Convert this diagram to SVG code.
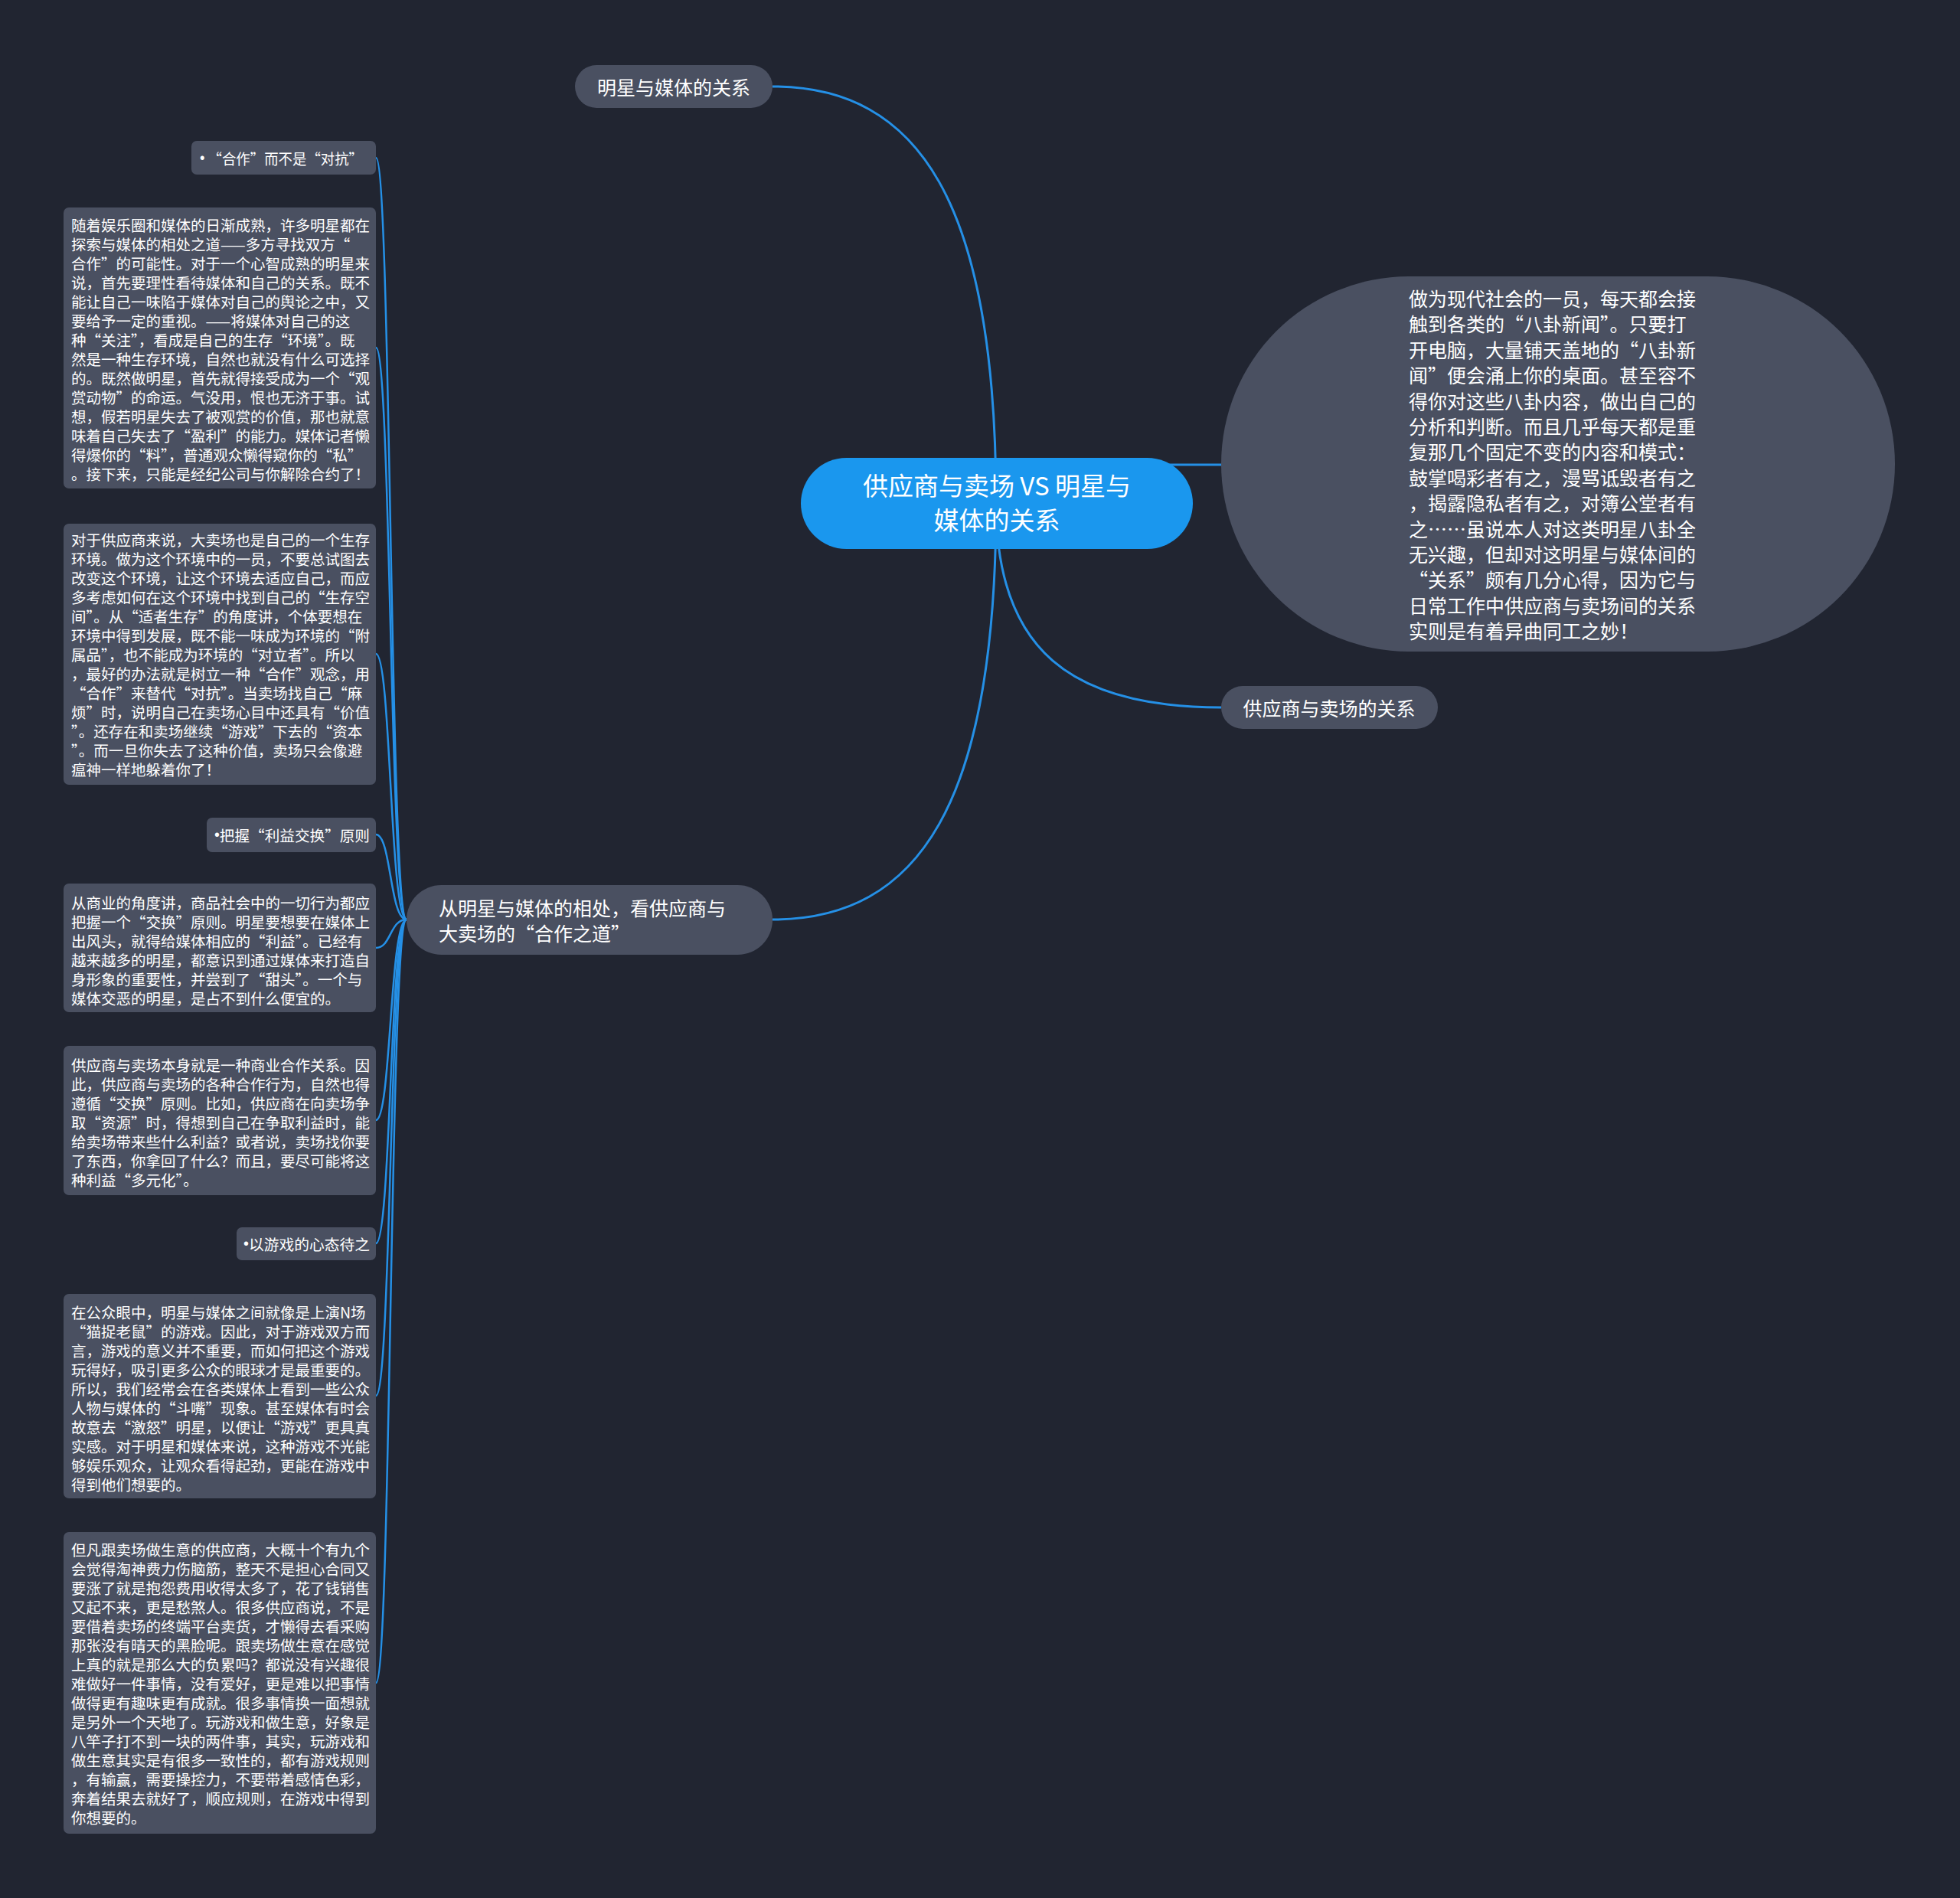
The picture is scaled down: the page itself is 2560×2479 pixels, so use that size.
<svg xmlns="http://www.w3.org/2000/svg" width="2560" height="2479" viewBox="0 0 2560 2479">
<style>
.bg{fill:#212531}
.node{fill:#4a5061}
.root{fill:#1a97ee}
.t{font-family:"Noto Sans CJK SC","Noto Sans",sans-serif;fill:#ffffff;dominant-baseline:central}
.t25{font-size:25px}
.t33{font-size:33px}
.t19{font-size:19.5px}
.b{font-family:"Liberation Sans",sans-serif}
.c{fill:none;stroke:#2590e6;stroke-width:3}
.cl{fill:none;stroke:#2590e6;stroke-width:2.5}
</style>
<rect class="bg" x="0" y="0" width="2560" height="2479"/>
<g id="connectors">
<path class="c" d="M1301,657 C1301,264 1200,113 1009,113"/>
<path class="c" d="M1301,657 C1301,1050 1200,1201 1009,1201"/>
<path class="c" d="M1301,657 C1301,850 1400,924 1595,924"/>
<path class="c" d="M1301,607 L1600,607"/>
<path class="cl" d="M531,1201 C509,1201 511,206 491,206"/>
<path class="cl" d="M531,1201 C509,1201 511,454 491,454"/>
<path class="cl" d="M531,1201 C509,1201 511,854 491,854"/>
<path class="cl" d="M531,1201 C509,1201 511,1090 491,1090"/>
<path class="cl" d="M531,1201 C509,1201 511,1238 491,1238"/>
<path class="cl" d="M531,1201 C509,1201 511,1463 491,1463"/>
<path class="cl" d="M531,1201 C509,1201 511,1624 491,1624"/>
<path class="cl" d="M531,1201 C509,1201 511,1823 491,1823"/>
<path class="cl" d="M531,1201 C509,1201 511,2198 491,2198"/>
</g>
<g id="root">
<rect class="root" x="1046" y="598" width="512" height="119" rx="59.5"/>
<text class="t t33" x="1302" y="633" text-anchor="middle">供应商与卖场 VS 明星与</text>
<text class="t t33" x="1302" y="678" text-anchor="middle">媒体的关系</text>
</g>
<g id="n-mingxing">
<rect class="node" x="751" y="85" width="258" height="56" rx="28"/>
<text class="t t25" x="880" y="113" text-anchor="middle">明星与媒体的关系</text>
</g>
<g id="n-gongying">
<rect class="node" x="1595" y="896" width="283" height="56" rx="28"/>
<text class="t t25" x="1736" y="924" text-anchor="middle">供应商与卖场的关系</text>
</g>
<g id="n-intro">
<rect class="node" x="1595" y="361" width="880" height="490" rx="245"/>
<text class="t t25" x="1840" y="389">
<tspan x="1840" y="389">做为现代社会的一员，每天都会接</tspan>
<tspan x="1840" y="422.4">触到各类的“八卦新闻”。只要打</tspan>
<tspan x="1840" y="455.8">开电脑，大量铺天盖地的“八卦新</tspan>
<tspan x="1840" y="489.2">闻”便会涌上你的桌面。甚至容不</tspan>
<tspan x="1840" y="522.6">得你对这些八卦内容，做出自己的</tspan>
<tspan x="1840" y="556">分析和判断。而且几乎每天都是重</tspan>
<tspan x="1840" y="589.4">复那几个固定不变的内容和模式：</tspan>
<tspan x="1840" y="622.8">鼓掌喝彩者有之，漫骂诋毁者有之</tspan>
<tspan x="1840" y="656.2">，揭露隐私者有之，对簿公堂者有</tspan>
<tspan x="1840" y="689.6">之……虽说本人对这类明星八卦全</tspan>
<tspan x="1840" y="723">无兴趣，但却对这明星与媒体间的</tspan>
<tspan x="1840" y="756.4">“关系”颇有几分心得，因为它与</tspan>
<tspan x="1840" y="789.8">日常工作中供应商与卖场间的关系</tspan>
<tspan x="1840" y="823.2">实则是有着异曲同工之妙！</tspan>
</text>
</g>
<g id="n-hezuo-dao">
<rect class="node" x="531" y="1156" width="478" height="91" rx="45.5"/>
<text class="t t25" x="573" y="1185">
<tspan x="573" y="1185">从明星与媒体的相处，看供应商与</tspan>
<tspan x="573" y="1218">大卖场的“合作之道”</tspan>
</text>
</g>
<g id="leaf-a">
<rect class="node" x="250" y="184" width="241" height="44" rx="7"/>
<text class="t t19" x="261" y="206" textLength="213" lengthAdjust="spacingAndGlyphs"><tspan class="b">•</tspan> “合作”而不是“对抗”</text>
</g>
<g id="leaf-b">
<rect class="node" x="83" y="271" width="408" height="367" rx="7"/>
<text class="t t19" x="93" y="293">
<tspan x="93" y="293">随着娱乐圈和媒体的日渐成熟，许多明星都在</tspan>
<tspan x="93" y="318">探索与媒体的相处之道——多方寻找双方“</tspan>
<tspan x="93" y="343">合作”的可能性。对于一个心智成熟的明星来</tspan>
<tspan x="93" y="368">说，首先要理性看待媒体和自己的关系。既不</tspan>
<tspan x="93" y="393">能让自己一味陷于媒体对自己的舆论之中，又</tspan>
<tspan x="93" y="418">要给予一定的重视。——将媒体对自己的这</tspan>
<tspan x="93" y="443">种“关注”，看成是自己的生存“环境”。既</tspan>
<tspan x="93" y="468">然是一种生存环境，自然也就没有什么可选择</tspan>
<tspan x="93" y="493">的。既然做明星，首先就得接受成为一个“观</tspan>
<tspan x="93" y="518">赏动物”的命运。气没用，恨也无济于事。试</tspan>
<tspan x="93" y="543">想，假若明星失去了被观赏的价值，那也就意</tspan>
<tspan x="93" y="568">味着自己失去了“盈利”的能力。媒体记者懒</tspan>
<tspan x="93" y="593">得爆你的“料”，普通观众懒得窥你的“私”</tspan>
<tspan x="93" y="618">。接下来，只能是经纪公司与你解除合约了！</tspan>
</text>
</g>
<g id="leaf-c">
<rect class="node" x="83" y="684" width="408" height="341" rx="7"/>
<text class="t t19" x="93" y="704">
<tspan x="93" y="704">对于供应商来说，大卖场也是自己的一个生存</tspan>
<tspan x="93" y="729">环境。做为这个环境中的一员，不要总试图去</tspan>
<tspan x="93" y="754">改变这个环境，让这个环境去适应自己，而应</tspan>
<tspan x="93" y="779">多考虑如何在这个环境中找到自己的“生存空</tspan>
<tspan x="93" y="804">间”。从“适者生存”的角度讲，个体要想在</tspan>
<tspan x="93" y="829">环境中得到发展，既不能一味成为环境的“附</tspan>
<tspan x="93" y="854">属品”，也不能成为环境的“对立者”。所以</tspan>
<tspan x="93" y="879">，最好的办法就是树立一种“合作”观念，用</tspan>
<tspan x="93" y="904">“合作”来替代“对抗”。当卖场找自己“麻</tspan>
<tspan x="93" y="929">烦”时，说明自己在卖场心目中还具有“价值</tspan>
<tspan x="93" y="954">”。还存在和卖场继续“游戏”下去的“资本</tspan>
<tspan x="93" y="979">”。而一旦你失去了这种价值，卖场只会像避</tspan>
<tspan x="93" y="1004">瘟神一样地躲着你了！</tspan>
</text>
</g>
<g id="leaf-d">
<rect class="node" x="270" y="1068" width="221" height="45" rx="7"/>
<text class="t t19" x="280" y="1090" textLength="203" lengthAdjust="spacingAndGlyphs"><tspan class="b">•</tspan>把握“利益交换”原则</text>
</g>
<g id="leaf-e">
<rect class="node" x="83" y="1154" width="408" height="168" rx="7"/>
<text class="t t19" x="93" y="1178">
<tspan x="93" y="1178">从商业的角度讲，商品社会中的一切行为都应</tspan>
<tspan x="93" y="1203">把握一个“交换”原则。明星要想要在媒体上</tspan>
<tspan x="93" y="1228">出风头，就得给媒体相应的“利益”。已经有</tspan>
<tspan x="93" y="1253">越来越多的明星，都意识到通过媒体来打造自</tspan>
<tspan x="93" y="1278">身形象的重要性，并尝到了“甜头”。一个与</tspan>
<tspan x="93" y="1303">媒体交恶的明星，是占不到什么便宜的。</tspan>
</text>
</g>
<g id="leaf-f">
<rect class="node" x="83" y="1366" width="408" height="195" rx="7"/>
<text class="t t19" x="93" y="1390">
<tspan x="93" y="1390">供应商与卖场本身就是一种商业合作关系。因</tspan>
<tspan x="93" y="1415">此，供应商与卖场的各种合作行为，自然也得</tspan>
<tspan x="93" y="1440">遵循“交换”原则。比如，供应商在向卖场争</tspan>
<tspan x="93" y="1465">取“资源”时，得想到自己在争取利益时，能</tspan>
<tspan x="93" y="1490">给卖场带来些什么利益？或者说，卖场找你要</tspan>
<tspan x="93" y="1515">了东西，你拿回了什么？而且，要尽可能将这</tspan>
<tspan x="93" y="1540">种利益“多元化”。</tspan>
</text>
</g>
<g id="leaf-g">
<rect class="node" x="309" y="1603" width="182" height="43" rx="7"/>
<text class="t t19" x="318" y="1624" textLength="165" lengthAdjust="spacingAndGlyphs"><tspan class="b">•</tspan>以游戏的心态待之</text>
</g>
<g id="leaf-h">
<rect class="node" x="83" y="1690" width="408" height="267" rx="7"/>
<text class="t t19" x="93" y="1713">
<tspan x="93" y="1713">在公众眼中，明星与媒体之间就像是上演N场</tspan>
<tspan x="93" y="1738">“猫捉老鼠”的游戏。因此，对于游戏双方而</tspan>
<tspan x="93" y="1763">言，游戏的意义并不重要，而如何把这个游戏</tspan>
<tspan x="93" y="1788">玩得好，吸引更多公众的眼球才是最重要的。</tspan>
<tspan x="93" y="1813">所以，我们经常会在各类媒体上看到一些公众</tspan>
<tspan x="93" y="1838">人物与媒体的“斗嘴”现象。甚至媒体有时会</tspan>
<tspan x="93" y="1863">故意去“激怒”明星，以便让“游戏”更具真</tspan>
<tspan x="93" y="1888">实感。对于明星和媒体来说，这种游戏不光能</tspan>
<tspan x="93" y="1913">够娱乐观众，让观众看得起劲，更能在游戏中</tspan>
<tspan x="93" y="1938">得到他们想要的。</tspan>
</text>
</g>
<g id="leaf-i">
<rect class="node" x="83" y="2001" width="408" height="394" rx="7"/>
<text class="t t19" x="93" y="2023">
<tspan x="93" y="2023">但凡跟卖场做生意的供应商，大概十个有九个</tspan>
<tspan x="93" y="2048">会觉得淘神费力伤脑筋，整天不是担心合同又</tspan>
<tspan x="93" y="2073">要涨了就是抱怨费用收得太多了，花了钱销售</tspan>
<tspan x="93" y="2098">又起不来，更是愁煞人。很多供应商说，不是</tspan>
<tspan x="93" y="2123">要借着卖场的终端平台卖货，才懒得去看采购</tspan>
<tspan x="93" y="2148">那张没有晴天的黑脸呢。跟卖场做生意在感觉</tspan>
<tspan x="93" y="2173">上真的就是那么大的负累吗？都说没有兴趣很</tspan>
<tspan x="93" y="2198">难做好一件事情，没有爱好，更是难以把事情</tspan>
<tspan x="93" y="2223">做得更有趣味更有成就。很多事情换一面想就</tspan>
<tspan x="93" y="2248">是另外一个天地了。玩游戏和做生意，好象是</tspan>
<tspan x="93" y="2273">八竿子打不到一块的两件事，其实，玩游戏和</tspan>
<tspan x="93" y="2298">做生意其实是有很多一致性的，都有游戏规则</tspan>
<tspan x="93" y="2323">，有输赢，需要操控力，不要带着感情色彩，</tspan>
<tspan x="93" y="2348">奔着结果去就好了，顺应规则，在游戏中得到</tspan>
<tspan x="93" y="2373">你想要的。</tspan>
</text>
</g>
</svg>
